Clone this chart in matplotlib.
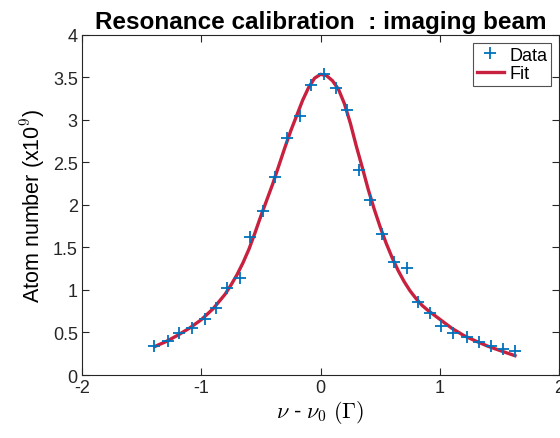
import matplotlib
matplotlib.use("Agg")
import matplotlib.pyplot as plt

plt.rcParams['font.family'] = ['Liberation Sans', 'DejaVu Sans']
plt.rcParams['mathtext.fontset'] = 'cm'

# Measured data
data_x = [-1.395, -1.283, -1.185, -1.078, -0.972, -0.877, -0.788, -0.675,
          -0.588, -0.485, -0.381, -0.283, -0.176, -0.084, 0.025, 0.126,
          0.221, 0.322, 0.417, 0.518, 0.613, 0.725, 0.818, 0.916,
          1.014, 1.112, 1.224, 1.330, 1.426, 1.532, 1.630]
data_y = [0.344, 0.403, 0.490, 0.552, 0.658, 0.784, 1.019, 1.136,
          1.625, 1.931, 2.330, 2.789, 3.040, 3.408, 3.537, 3.369,
          3.118, 2.412, 2.060, 1.657, 1.334, 1.262, 0.854, 0.727,
          0.576, 0.490, 0.450, 0.384, 0.337, 0.300, 0.284]

# Fit curve
fit_x = [-1.39, -1.3, -1.2, -1.1, -1.0, -0.9, -0.8, -0.75, -0.7, -0.65, -0.6,
         -0.55, -0.5, -0.45, -0.4, -0.35, -0.3, -0.25, -0.2, -0.15, -0.1,
         -0.05, 0.0, 0.05, 0.1, 0.15, 0.2, 0.25, 0.3, 0.35, 0.4, 0.45, 0.5,
         0.55, 0.6, 0.65, 0.7, 0.75, 0.8, 0.85, 0.9, 1.0, 1.1, 1.2, 1.3, 1.4,
         1.5, 1.63]
fit_y = [0.335, 0.39, 0.465, 0.55, 0.65, 0.78, 0.95, 1.06, 1.18, 1.32, 1.48,
         1.67, 1.87, 2.06, 2.25, 2.46, 2.67, 2.87, 3.05, 3.23, 3.38,
         3.49, 3.535, 3.52, 3.46, 3.36, 3.19, 2.96, 2.69, 2.44, 2.18, 1.95, 1.74,
         1.55, 1.38, 1.23, 1.10, 0.99, 0.90, 0.82, 0.76, 0.655, 0.55, 0.465,
         0.40, 0.34, 0.29, 0.227]

x_ticks = [-2, -1, 0, 1, 2]
x_ticklabels = ['-2', '-1', '0', '1', '2']
y_ticks = [0, 0.5, 1, 1.5, 2, 2.5, 3, 3.5, 4]
y_ticklabels = ['0', '0.5', '1', '1.5', '2', '2.5', '3', '3.5', '4']

fig = plt.figure(figsize=(5.6, 4.39), dpi=100)
ax = fig.add_axes([0.1464, 0.1435, 0.852, 0.775])

ax.plot(data_x, data_y, linestyle='none', marker='+', markersize=8,
        markeredgewidth=1.3, color='#0072BD', label='Data', zorder=3)
ax.plot(fit_x, fit_y, '-', color='#C8203F', linewidth=2.4, label='Fit', zorder=2)

ax.set_xlim(-2, 2)
ax.set_ylim(0, 4)
ax.set_xticks(x_ticks)
ax.set_xticklabels(x_ticklabels)
ax.set_yticks(y_ticks)
ax.set_yticklabels(y_ticklabels)

ax.tick_params(direction='in', top=True, right=True, length=5, width=0.8,
               labelsize=13, colors='#262626', pad=3)
for s in ax.spines.values():
    s.set_color('#262626')
    s.set_linewidth(0.8)

ax.set_title('Resonance calibration  : imaging beam', fontsize=17.5,
             fontweight='bold', pad=5)
ax.set_xlabel(r'$\nu$ - $\nu_0$ $(\Gamma)$', fontsize=16, labelpad=1)
ax.set_ylabel(r'Atom number (x10$^9$)', fontsize=15.5, labelpad=4)

leg = ax.legend(loc='upper right', fontsize=13, frameon=True, fancybox=False,
                edgecolor='#262626', borderpad=0.2, handlelength=1.5,
                handletextpad=0.3, labelspacing=0.1, borderaxespad=0.45)
leg.get_frame().set_linewidth(0.8)

fig.savefig('out.png', dpi=100)
